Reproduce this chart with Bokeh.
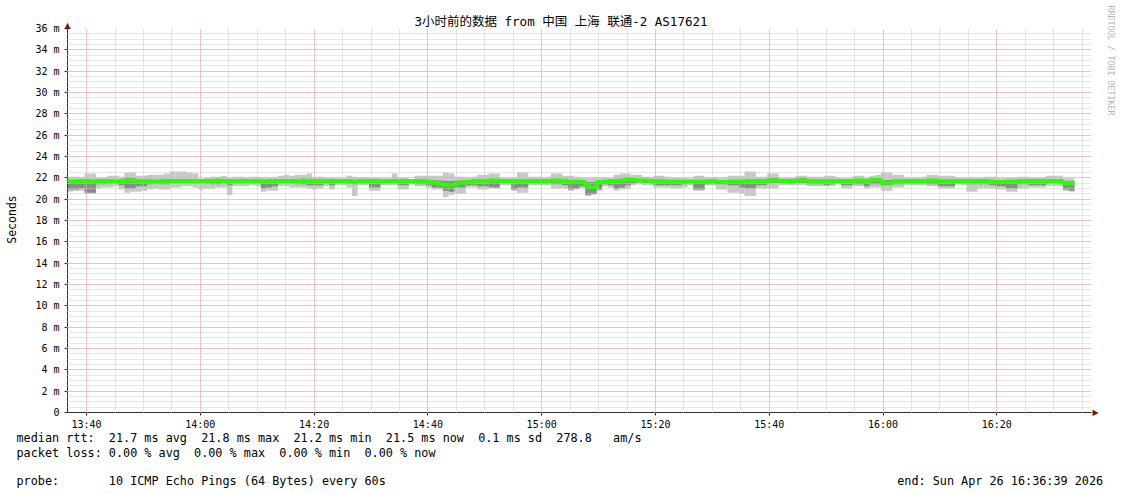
import datetime as dt
import math
from bokeh.plotting import figure
from bokeh.models import FixedTicker, Label, ColumnDataSource, Range1d, Legend, LegendItem
from bokeh.embed import file_html
from bokeh.resources import INLINE

# ---------------- data ----------------
title_text = "3小时前的数据 from 中国 上海 联通-2 AS17621"
start_time = dt.datetime(2026, 4, 26, 13, 36, 39)
end_time = dt.datetime(2026, 4, 26, 16, 36, 39)

y_ticks = [0, 2, 4, 6, 8, 10, 12, 14, 16, 18, 20, 22, 24, 26, 28, 30, 32, 34, 36]
y_tick_labels = ["0", "2 m", "4 m", "6 m", "8 m", "10 m", "12 m", "14 m", "16 m", "18 m",
                 "20 m", "22 m", "24 m", "26 m", "28 m", "30 m", "32 m", "34 m", "36 m"]
x_tick_labels = ["13:40", "14:00", "14:20", "14:40", "15:00", "15:20", "15:40", "16:00", "16:20"]

# rtt smoke per minute (ms)
top = [
22.1,22.1,22.0,22.4,22.4,22.0,22.0,22.2,22.2,22.1,
22.5,22.5,22.2,22.2,22.3,22.3,22.3,22.4,22.6,22.6,
22.6,22.5,22.4,21.9,22.0,22.1,22.1,22.2,22.0,22.1,
22.1,22.0,22.1,22.1,22.0,22.0,22.1,22.2,22.3,22.2,
22.3,22.3,22.4,22.1,22.1,22.0,22.0,21.95,21.95,22.2,
22.1,22.05,22.05,22.0,22.0,21.95,21.95,22.4,22.0,22.0,
21.9,22.2,22.2,22.2,22.2,22.2,22.5,22.4,22.1,22.1,
22.0,22.1,22.3,22.3,22.4,22.4,22.0,22.0,22.0,22.5,
22.5,22.1,22.1,22.0,22.1,22.4,22.4,22.2,22.2,22.1,
22.0,22.0,22.0,22.0,22.0,21.95,22.3,22.4,22.4,22.3,
22.3,22.1,22.1,22.2,22.2,22.1,22.0,22.0,22.0,21.95,
22.2,22.2,22.0,22.0,22.0,22.0,22.2,22.2,22.2,22.6,
22.6,22.1,22.1,22.4,22.4,22.0,22.0,22.0,22.2,22.2,
22.1,22.1,22.1,22.2,22.2,22.0,21.95,21.95,22.2,22.2,
22.0,22.2,22.3,22.5,22.5,22.3,22.3,22.0,22.0,22.0,
22.1,22.3,22.3,22.2,22.2,22.2,22.0,22.0,22.0,22.0,
22.0,22.1,22.1,22.0,22.0,22.0,22.0,22.1,22.1,22.0,
22.0,22.0,22.2,22.2,22.2,21.95,21.95]
up = [
21.8,21.8,21.8,21.9,21.8,21.8,21.8,21.8,21.8,21.85,
22.0,21.95,21.9,21.9,21.8,21.8,21.8,21.85,21.9,21.9,
21.85,21.8,21.8,21.8,21.8,21.9,21.9,21.9,21.8,21.75,
21.75,21.75,21.8,21.75,21.75,21.75,21.75,21.8,21.8,21.8,
21.85,21.85,21.9,21.9,21.85,21.8,21.8,21.8,21.8,21.85,
21.8,21.8,21.8,21.8,21.8,21.8,21.8,21.85,21.8,21.8,
21.8,21.85,21.85,21.8,21.8,21.75,21.7,21.7,21.75,21.75,
21.8,21.8,21.85,21.85,21.9,21.9,21.8,21.8,21.8,21.85,
21.85,21.8,21.8,21.8,21.8,21.9,21.9,21.85,21.8,21.8,
21.75,21.6,21.6,21.7,21.75,21.75,21.85,21.9,22.0,21.9,
21.85,21.8,21.8,21.8,21.8,21.8,21.8,21.75,21.75,21.75,
21.8,21.8,21.75,21.75,21.75,21.75,21.8,21.8,21.8,21.85,
21.85,21.8,21.8,21.95,21.95,21.85,21.85,21.8,21.95,21.95,
21.8,21.8,21.8,21.8,21.8,21.8,21.8,21.8,21.9,21.9,
21.8,21.95,21.95,21.8,21.8,21.8,21.8,21.8,21.8,21.8,
21.8,21.9,21.9,21.85,21.85,21.85,21.8,21.8,21.8,21.8,
21.8,21.8,21.8,21.75,21.75,21.8,21.8,21.8,21.8,21.8,
21.8,21.8,21.8,21.8,21.8,21.7,21.7]
lo = [
20.9,20.9,21.0,20.6,20.6,21.4,21.4,21.5,21.5,21.3,
21.0,21.0,21.2,21.2,21.4,21.5,21.4,21.4,21.5,21.5,
21.5,21.5,21.5,21.5,21.5,21.4,21.4,21.5,21.3,21.55,
21.55,21.5,21.55,21.5,21.0,21.1,21.2,21.5,21.5,21.5,
21.4,21.4,21.3,21.3,21.3,21.5,21.3,21.5,21.5,21.45,
21.4,21.5,21.5,21.1,21.1,21.5,21.5,21.5,21.3,21.3,
21.5,21.4,21.4,21.3,21.1,21.1,20.8,20.7,21.1,21.1,
21.3,21.3,21.2,21.2,21.1,21.1,21.5,21.5,20.9,21.1,
21.1,21.5,21.5,21.5,21.5,21.4,21.4,21.3,20.9,21.0,
21.2,20.4,20.5,20.9,21.4,21.3,21.0,21.1,21.3,21.5,
21.6,21.5,21.5,21.3,21.3,21.3,21.3,21.3,21.4,21.5,
20.9,20.9,21.4,21.4,21.4,21.4,21.3,21.3,21.1,21.0,
21.0,21.3,21.3,21.5,21.5,21.5,21.5,21.5,21.5,21.5,
21.4,21.4,21.4,21.3,21.4,21.5,21.3,21.3,21.4,21.4,
21.2,21.4,21.4,21.3,21.3,21.4,21.4,21.5,21.5,21.5,
21.5,21.4,21.4,21.2,21.2,21.2,21.5,21.5,21.4,21.4,
21.4,21.4,21.3,21.2,21.2,21.0,21.0,21.4,21.4,21.3,
21.3,21.3,21.5,21.5,21.5,20.9,20.8]
bot = [
20.7,20.8,20.8,20.5,20.5,21.0,21.1,21.1,21.2,20.9,
20.6,20.7,20.7,20.8,20.9,21.0,20.9,20.9,21.1,21.1,
21.2,21.2,21.1,20.9,21.0,21.0,21.1,21.1,20.4,21.2,
21.2,21.2,21.3,21.2,20.7,20.8,20.8,21.2,21.2,21.1,
21.1,21.1,21.0,20.9,21.0,21.2,20.9,21.3,21.3,21.1,
20.3,21.3,21.3,20.8,20.8,21.3,21.3,21.3,20.9,20.9,
21.4,21.2,21.2,21.1,20.9,20.9,20.2,20.4,20.5,20.5,
21.1,21.1,20.9,20.9,21.1,21.0,21.3,21.3,20.8,20.6,
20.6,21.3,21.3,21.3,21.3,21.0,21.0,21.0,20.8,20.9,
21.0,20.3,20.4,20.8,21.2,21.1,20.8,20.9,21.0,21.3,
21.4,21.3,21.3,21.1,21.1,21.1,21.0,21.0,21.1,21.3,
20.8,20.8,21.3,21.3,20.9,20.9,20.6,20.6,20.5,20.3,
20.3,21.0,21.0,21.0,21.0,21.3,21.3,21.3,21.3,21.3,
21.2,21.2,21.2,21.2,21.2,21.4,21.0,21.0,21.2,21.2,
21.0,21.1,21.1,20.8,20.8,21.1,21.1,21.3,21.3,21.3,
21.3,21.2,21.2,21.0,21.0,21.0,21.4,21.3,20.7,20.7,
21.0,21.0,21.0,20.9,20.9,20.7,20.7,21.0,21.0,21.1,
21.1,21.1,21.2,21.2,21.2,20.8,20.7]
med = [
21.65,21.65,21.7,21.65,21.65,21.7,21.7,21.7,21.65,21.7,
21.75,21.75,21.7,21.7,21.7,21.65,21.7,21.7,21.7,21.7,
21.7,21.7,21.7,21.7,21.7,21.7,21.75,21.7,21.7,21.7,
21.7,21.7,21.7,21.7,21.65,21.7,21.7,21.7,21.7,21.7,
21.7,21.75,21.7,21.7,21.7,21.7,21.7,21.7,21.7,21.7,
21.65,21.7,21.7,21.7,21.7,21.7,21.7,21.7,21.7,21.7,
21.7,21.7,21.7,21.65,21.55,21.45,21.35,21.35,21.5,21.55,
21.65,21.7,21.7,21.7,21.75,21.75,21.7,21.7,21.7,21.7,
21.7,21.7,21.7,21.7,21.7,21.75,21.75,21.7,21.65,21.65,
21.6,21.2,21.15,21.6,21.65,21.7,21.7,21.75,21.85,21.8,
21.75,21.75,21.7,21.7,21.7,21.65,21.65,21.65,21.65,21.65,
21.65,21.65,21.65,21.7,21.6,21.6,21.65,21.65,21.65,21.7,
21.7,21.7,21.7,21.75,21.75,21.7,21.7,21.7,21.75,21.75,
21.7,21.7,21.7,21.7,21.7,21.7,21.7,21.7,21.75,21.75,
21.7,21.8,21.8,21.55,21.55,21.7,21.7,21.7,21.7,21.7,
21.7,21.75,21.75,21.7,21.7,21.7,21.7,21.7,21.7,21.7,
21.7,21.7,21.65,21.6,21.6,21.65,21.65,21.7,21.7,21.7,
21.7,21.7,21.7,21.7,21.7,21.5,21.5]

loss_labels = ["0", "1/10", "2/10", "3/10", "4/10", "5/10", "9/10"]
loss_colors = ["#26ff00", "#00b8ff", "#0059ff", "#5e00ff", "#7e00ff", "#dd00ff", "#ff0000"]

stats_rtt = ["median rtt:", "21.7 ms avg", "21.8 ms max", "21.2 ms min", "21.5 ms now", "0.1 ms sd", "278.8", "am/s"]
stats_loss = ["packet loss:", "0.00 % avg", "0.00 % max", "0.00 % min", "0.00 % now"]
loss_head = "loss color:"
probe_line = ["probe:", "10 ICMP Echo Pings (64 Bytes) every 60s", "end: Sun Apr 26 16:36:39 2026"]

# ---------------- helpers ----------------
EPOCH = dt.datetime(1970, 1, 1)
def ms(d):
    return (d - EPOCH).total_seconds() * 1000.0

T0, T1 = ms(start_time), ms(end_time)
MIN = 60000.0

n = min(len(med), len(top), len(up), len(lo), len(bot))
left = [T0 + i * MIN for i in range(n)]
right = [v + MIN for v in left]
src = ColumnDataSource(dict(left=left, right=right, top=top[:n], up=up[:n], lo=lo[:n], bot=bot[:n], med=med[:n]))

x_ticks = [ms(dt.datetime(2026, 4, 26, int(s[:2]), int(s[3:]))) for s in x_tick_labels]
x_minor = [x_ticks[0] + k * 5 * MIN for k in range(0, 40) if x_ticks[0] + k * 5 * MIN <= T1]
y_minor = [k * 0.5 for k in range(0, 73)]

MONO = "DejaVu Sans Mono"
FS = "11.8px"
W = 1119
FL, FR = 67, 1091   # frame left / right in page pixels

# ---------------- main chart ----------------
p = figure(frame_width=FR - FL, frame_height=384, x_range=Range1d(T0, T1), y_range=Range1d(0, 36),
           output_backend="svg", toolbar_location=None, title=title_text,
           min_border_left=FL, min_border_right=W - FR, min_border_top=28, min_border_bottom=82)
p.outline_line_color = None
p.background_fill_color = "white"
p.border_fill_color = "white"

p.title.align = "left"
p.title.offset = 347
p.title.standoff = 0
p.title.text_font = "DejaVu Sans Mono, Noto Sans CJK SC"
p.title.text_font_size = "12.5px"
p.title.text_font_style = "normal"
p.title.text_color = "black"

# smoke
p.quad(left="left", right="right", bottom="bot", top="top", source=src,
       fill_color="#c8c8c8", line_color=None)
p.quad(left="left", right="right", bottom="lo", top="up", source=src,
       fill_color="#8a8a8a", line_color=None)

# axes
p.xaxis.ticker = FixedTicker(ticks=x_ticks, minor_ticks=x_minor)
p.xaxis.major_label_overrides = {t: l for t, l in zip(x_ticks, x_tick_labels)}
p.yaxis.ticker = FixedTicker(ticks=y_ticks, minor_ticks=y_minor)
p.yaxis.major_label_overrides = {t: l for t, l in zip(y_ticks, y_tick_labels)}
for ax in (p.xaxis[0], p.yaxis[0]):
    ax.axis_line_color = "#303030"
    ax.major_tick_line_color = "#303030"
    ax.major_tick_out = 3
    ax.major_tick_in = 0
    ax.minor_tick_line_color = None
    ax.major_label_text_font = MONO
    ax.major_label_text_font_size = "10px"
    ax.major_label_text_color = "black"
p.yaxis.major_label_standoff = 4
p.xaxis.major_label_standoff = 2

for g in (p.xgrid[0], p.ygrid[0]):
    g.level = "annotation"
    g.grid_line_color = "#f0a0a0"
    g.grid_line_dash = "1 1"
    g.minor_grid_line_color = "#cccccc"
    g.minor_grid_line_dash = "1 1"

# median drawn above the grid
p.step(x=left + [right[-1]], y=med[:n] + [med[n - 1]], mode="after", line_color="#26ff00",
       line_width=4, level="overlay")

def side_label(place, x, y, text, size, align="center", color="black", angle=0.0, font=MONO):
    p.add_layout(Label(x=x, y=y, x_units="canvas", y_units="canvas", text=text,
                       text_align=align, text_baseline="middle", text_color=color,
                       angle=angle, text_font=font, text_font_size=size), place)

side_label("left", 67, 25, "\u25b2", "8px", color="#7f1010", font="DejaVu Sans")
side_label("left", 11, 219, "Seconds", "11.5px", angle=math.pi / 2)
side_label("right", 1110, 5, "RRDTOOL / TOBI OETIKER", "8.3px", align="left", color="#b8b8b8",
           angle=-math.pi / 2)
side_label("right", 1095, 412, "\u25b6", "8px", color="#7f1010", font="DejaVu Sans")

# ---------------- legend block (below panel, stacked under the x axis) ----------------
def padded(segs, cols):
    s = ""
    for seg, c in zip(segs, cols):
        k = c - len(s)
        if s and k > 0:
            s += " " + "\u00a0" * (k - 1)
        s += seg
    return s

side_label("below", 16, 437, padded(stats_rtt, [0, 13, 26, 39, 52, 65, 76, 84]), FS, align="left")
side_label("below", 16, 452, padded(stats_loss, [0, 13, 25, 37, 49]), FS, align="left")

head_swatch = p.quad(left=[], right=[], top=[], bottom=[], fill_alpha=0.0, line_alpha=0.0)
swatches = [p.quad(left=[], right=[], top=[], bottom=[], fill_color=c, line_color="black", line_width=1)
            for c in loss_colors]
items = [LegendItem(label=loss_head, renderers=[head_swatch])]
items += [LegendItem(label=s, renderers=[r]) for s, r in zip(loss_labels, swatches)]
loss_legend = Legend(items=items, orientation="horizontal", location=(1 - FL, 21),
                     label_text_font=MONO, label_text_font_size=FS, label_text_color="black",
                     label_standoff=5, label_width=0, label_height=14,
                     glyph_width=10, glyph_height=10, spacing=15, padding=0, margin=0,
                     border_line_color=None, background_fill_alpha=0.0)
p.add_layout(loss_legend, "below")

side_label("below", 16, 480, padded(probe_line, [0, 13, 124]), FS, align="left")

open("out.html", "w").write(file_html(p, INLINE))
